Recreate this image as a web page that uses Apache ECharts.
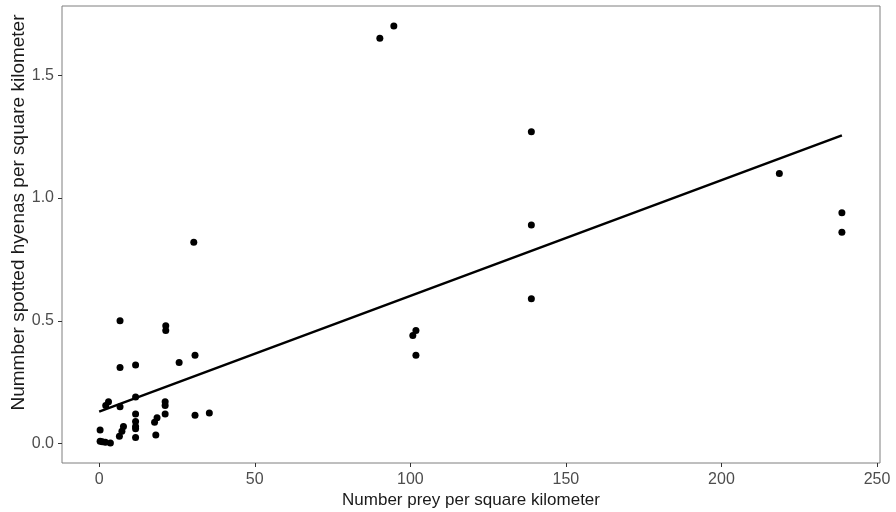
<!DOCTYPE html>
<html>
<head>
<meta charset="utf-8">
<script src="https://cdn.jsdelivr.net/npm/echarts@6/dist/echarts.min.js"></script>
<style>
html,body{margin:0;padding:0;background:#fff;}
#chart{width:896px;height:512px;}
</style>
</head>
<body>
<div id="chart"></div>
<script>
// Data
const preyDensity = [90.2, 94.7, 138.9, 138.9, 138.9, 218.6, 238.7, 238.7, 101.8, 100.8, 101.8, 30.4,
  6.7, 21.4, 21.4, 6.7, 11.7, 25.7, 30.8, 3.0, 2.1, 6.7, 11.7, 11.7, 11.7, 11.7, 11.7, 11.7,
  7.8, 7.3, 6.5, 0.3, 0.3, 1.0, 2.0, 3.6, 21.2, 21.2, 21.2, 18.6, 17.8, 18.2, 30.8, 35.4];
const hyenaDensity = [1.65, 1.70, 1.27, 0.89, 0.59, 1.10, 0.94, 0.86, 0.46, 0.44, 0.36, 0.82,
  0.50, 0.48, 0.46, 0.31, 0.32, 0.33, 0.36, 0.17, 0.155, 0.15, 0.19, 0.12, 0.09, 0.07, 0.06, 0.025,
  0.07, 0.05, 0.03, 0.055, 0.01, 0.008, 0.005, 0.002, 0.17, 0.155, 0.12, 0.105, 0.087, 0.035, 0.115, 0.125];
const fitX = [0, 238.7];
const fitY = [0.13, 1.255];
const xTicks = [0, 50, 100, 150, 200, 250];
const yTicks = [0, 0.5, 1.0, 1.5];

const points = preyDensity.map((x, i) => [x, hyenaDensity[i]]);
const fitLine = fitX.map((x, i) => [x, fitY[i]]);

const chart = echarts.init(document.getElementById('chart'), null, {renderer: 'canvas'});
const FONT = 'Liberation Sans, Arial, sans-serif';
const labelStyle = {color: '#4d4d4d', fontSize: 16, fontFamily: FONT};
chart.setOption({
  animation: false,
  backgroundColor: '#ffffff',
  grid: {left: 62, right: 16, top: 6, bottom: 49, containLabel: false, outerBoundsMode: 'none',
    show: true, borderColor: '#7f7f7f', borderWidth: 1, backgroundColor: '#ffffff'},
  xAxis: {
    type: 'value', min: -11.95, max: 250.95,
    name: 'Number prey per square kilometer', nameLocation: 'middle', nameGap: 29, nameMoveOverlap: false,
    nameTextStyle: {color: '#1a1a1a', fontSize: 17, fontFamily: FONT},
    axisLine: {show: false, onZero: false},
    splitLine: {show: false},
    axisTick: {show: true, inside: false, length: 4, lineStyle: {color: '#333333'}, customValues: xTicks},
    axisLabel: Object.assign({customValues: xTicks, margin: 9, formatter: v => String(v)}, labelStyle)
  },
  yAxis: {
    type: 'value', min: -0.079, max: 1.7815,
    name: 'Nummber spotted hyenas per square kilometer', nameLocation: 'middle', nameGap: 34, nameMoveOverlap: false,
    nameTextStyle: {color: '#1a1a1a', fontSize: 19, fontFamily: FONT, padding: [0, 0, 0, 44]},
    axisLine: {show: false, onZero: false},
    splitLine: {show: false},
    axisTick: {show: true, inside: false, length: 4, lineStyle: {color: '#333333'}, customValues: yTicks},
    axisLabel: Object.assign({customValues: yTicks, margin: 8, formatter: v => v.toFixed(1)}, labelStyle)
  },
  series: [
    {
      type: 'scatter', data: points, symbol: 'circle', symbolSize: 7,
      itemStyle: {color: '#000000', opacity: 1}, z: 3
    },
    {
      type: 'line', data: fitLine, showSymbol: false, symbol: 'none',
      lineStyle: {color: '#000000', width: 2.5}, z: 4
    }
  ]
});
</script>
</body>
</html>
